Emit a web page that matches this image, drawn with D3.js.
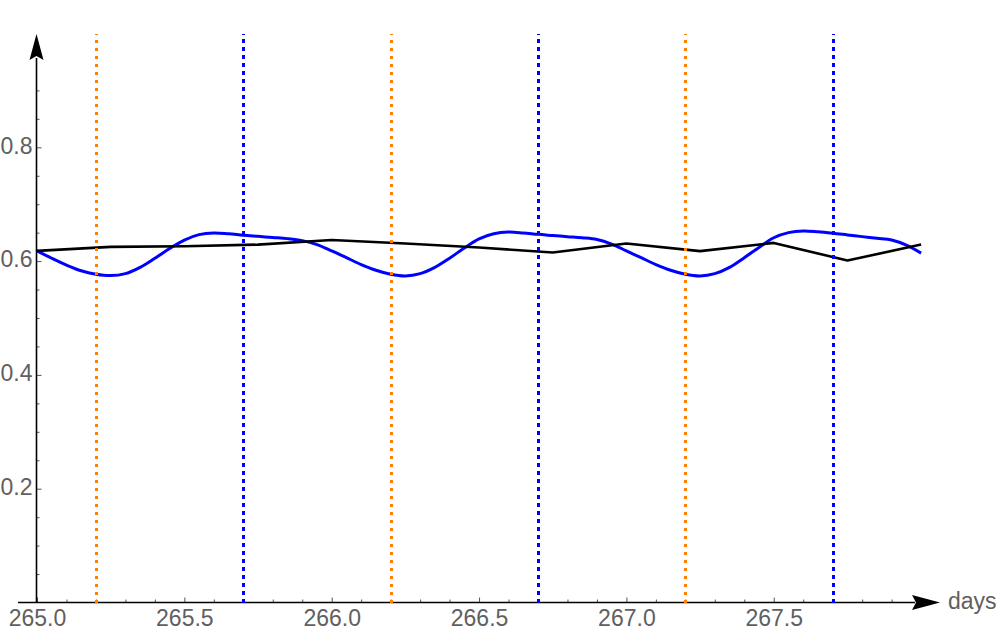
<!DOCTYPE html>
<html><head><meta charset="utf-8">
<script src="https://cdn.jsdelivr.net/npm/d3@7"></script>
<style>
html,body{margin:0;padding:0;background:#fff;}
svg{display:block;}
text{font-family:"Liberation Sans",Arial,sans-serif;fill:#606060;}
</style></head>
<body>
<svg id="chart" width="1000" height="634"></svg>
<script>
// ---- data ----
const blueDays = [265.00,265.05,265.10,265.15,265.20,265.25,265.30,265.35,265.40,265.45,265.50,265.55,265.60,265.65,265.70,265.75,265.80,265.85,265.90,265.95,
266.00,266.05,266.10,266.15,266.20,266.25,266.30,266.35,266.40,266.45,266.50,266.55,266.60,266.65,266.70,266.75,266.80,266.85,266.90,266.95,
267.00,267.05,267.10,267.15,267.20,267.25,267.30,267.35,267.40,267.45,267.50,267.55,267.60,267.65,267.70,267.75,267.80,267.85,267.90,267.95,268.00];
const blueValues = [0.618,0.605,0.593,0.583,0.577,0.5745,0.578,0.589,0.605,0.622,0.637,0.6465,0.6495,0.648,0.6455,0.6435,0.6415,0.6395,0.636,0.629,
0.618,0.606,0.594,0.584,0.577,0.574,0.578,0.589,0.605,0.623,0.639,0.648,0.651,0.6495,0.647,0.645,0.643,0.641,0.638,0.630,
0.618,0.606,0.594,0.584,0.577,0.574,0.578,0.589,0.606,0.624,0.641,0.650,0.653,0.6515,0.649,0.646,0.643,0.640,0.637,0.628,0.614];
const blackDays = [265.00,265.25,265.50,265.75,266.00,266.25,266.50,266.75,267.00,267.25,267.50,267.75,268.00];
const blackValues = [0.618,0.625,0.626,0.629,0.637,0.631,0.624,0.615,0.631,0.6175,0.632,0.601,0.629];
const orangeMarks = [265.2,266.2,267.2];
const blueMarks = [265.7,266.7,267.7];
const xMajorTicks = [265.0,265.5,266.0,266.5,267.0,267.5];
const xMinorTicks = [265.1,265.2,265.3,265.4,265.6,265.7,265.8,265.9,266.1,266.2,266.3,266.4,266.6,266.7,266.8,266.9,267.1,267.2,267.3,267.4,267.6,267.7,267.8,267.9];
const yMajorTicks = [0.2,0.4,0.6,0.8];
const yMinorTicks = [0.05,0.1,0.15,0.25,0.3,0.35,0.45,0.5,0.55,0.65,0.7,0.75,0.85,0.9];
const xLabel = "days";

// ---- chart ----
const svg = d3.select("#chart");
const x = d3.scaleLinear().domain([265, 268]).range([37, 921.1]);
const y = d3.scaleLinear().domain([0, 1]).range([602.5, 33.5]);

const axisColor = "#000";
const tickColor = "#555";
const fontFam = '"Liberation Sans",Arial,sans-serif';

// x axis ticks (pointing up)
const gx = svg.append("g").attr("transform", `translate(0,${y(0)})`);
gx.call(d3.axisBottom(x).tickValues(xMinorTicks).tickSize(-3).tickFormat(""))
  .call(g => g.select(".domain").remove())
  .call(g => g.selectAll("line").attr("stroke", tickColor).attr("stroke-width", 1));
const gx2 = svg.append("g").attr("transform", `translate(0,${y(0)})`);
gx2.call(d3.axisBottom(x).tickValues(xMajorTicks).tickSize(-5).tickPadding(0).tickFormat(d3.format(".1f")))
  .call(g => g.select(".domain").remove())
  .call(g => g.selectAll("line").attr("stroke", tickColor).attr("stroke-width", 1))
  .call(g => g.selectAll("text").attr("font-size", 23).attr("fill", "#606060")
      .attr("dy", null).attr("y", 23).attr("font-family", fontFam));

// y axis ticks (pointing right)
const gy = svg.append("g").attr("transform", `translate(36.5,0)`);
gy.call(d3.axisLeft(y).tickValues(yMinorTicks).tickSize(-3).tickFormat(""))
  .call(g => g.select(".domain").remove())
  .call(g => g.selectAll("line").attr("stroke", tickColor).attr("stroke-width", 1));
const gy2 = svg.append("g").attr("transform", `translate(36.5,0)`);
gy2.call(d3.axisLeft(y).tickValues(yMajorTicks).tickSize(-5).tickPadding(0).tickFormat(d3.format(".1f")))
  .call(g => g.select(".domain").remove())
  .call(g => g.selectAll("line").attr("stroke", tickColor).attr("stroke-width", 1))
  .call(g => g.selectAll("text").attr("font-size", 23).attr("fill", "#606060")
      .attr("x", -4).attr("dy", "0.25em").attr("font-family", fontFam));

// axis lines with arrows
svg.append("line").attr("x1", 18).attr("x2", 915).attr("y1", y(0)).attr("y2", y(0))
  .attr("stroke", axisColor).attr("stroke-width", 1.6);
svg.append("path").attr("d", `M912,${y(0)-7.5} L940,${y(0)} L912,${y(0)+7.5} L916,${y(0)} Z`).attr("fill", axisColor);
svg.append("line").attr("x1", 36.5).attr("x2", 36.5).attr("y1", y(0)).attr("y2", 58)
  .attr("stroke", axisColor).attr("stroke-width", 1.6);
svg.append("path").attr("d", `M29.5,60 L36.5,34 L43.5,60 L36.5,56 Z`).attr("fill", axisColor);
svg.append("text").attr("x", 948).attr("y", 609).attr("font-size", 23).text(xLabel);

// curves
const blueData = blueDays.map((d, i) => [d, blueValues[i]]);
const blackData = blackDays.map((d, i) => [d, blackValues[i]]);
svg.append("path").datum(blueData)
  .attr("d", d3.line().x(d => x(d[0])).y(d => y(d[1])).curve(d3.curveCatmullRom.alpha(0.5)))
  .attr("fill", "none").attr("stroke", "#0000ff").attr("stroke-width", 3).attr("stroke-linejoin", "round");
svg.append("path").datum(blackData)
  .attr("d", d3.line().x(d => x(d[0])).y(d => y(d[1])))
  .attr("fill", "none").attr("stroke", "#000").attr("stroke-width", 2.6).attr("stroke-linejoin", "round");

// vertical markers
const px = d => Math.round(x(d)) + 0.5;
svg.selectAll("line.orange").data(orangeMarks).enter().append("line").attr("class", "orange")
  .attr("x1", px).attr("x2", px).attr("y1", y(0)).attr("y2", y(1))
  .attr("stroke", "#ff8000").attr("stroke-width", 3).attr("stroke-dasharray", "3,5")
  .attr("shape-rendering", "crispEdges");
svg.selectAll("line.bluem").data(blueMarks).enter().append("line").attr("class", "bluem")
  .attr("x1", px).attr("x2", px).attr("y1", y(0)).attr("y2", y(1))
  .attr("stroke", "#0000ff").attr("stroke-width", 2.5).attr("stroke-dasharray", "4,4")
  .attr("shape-rendering", "crispEdges");
</script>
</body></html>
